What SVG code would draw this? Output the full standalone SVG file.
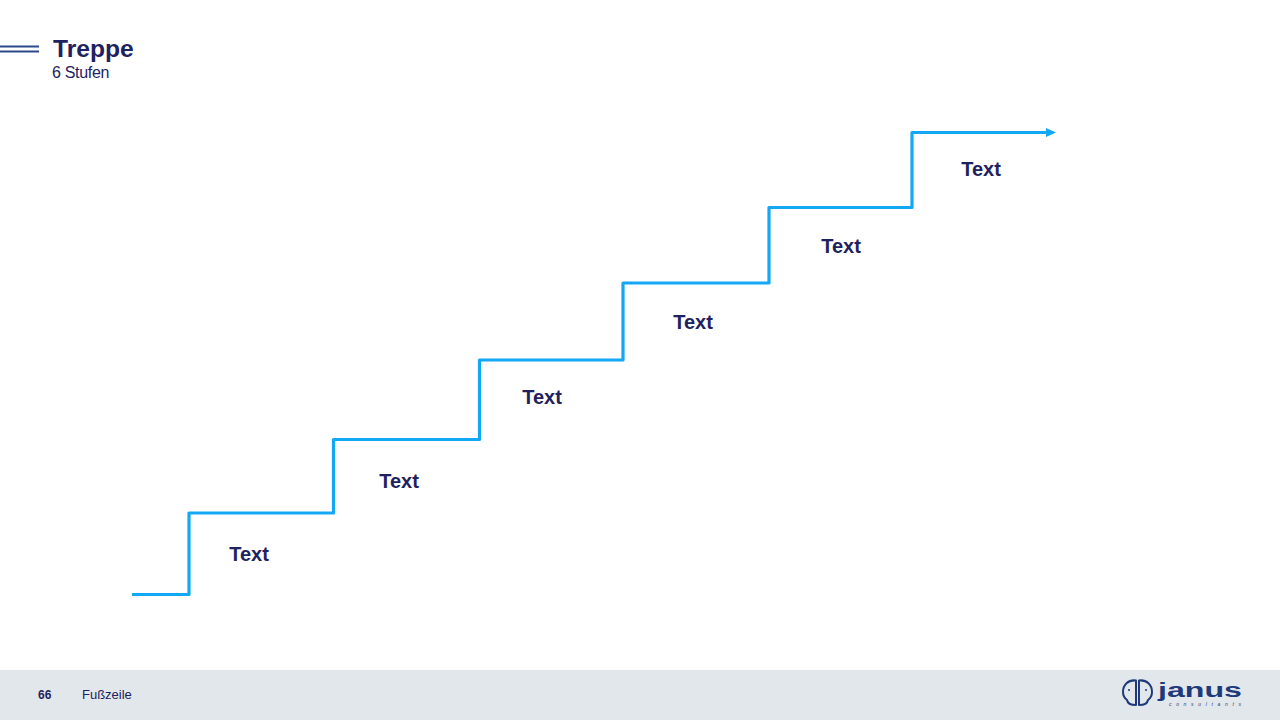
<svg xmlns="http://www.w3.org/2000/svg" width="1280" height="720" viewBox="0 0 1280 720">
<defs>
<style>
text{font-family:"Liberation Sans",Arial,sans-serif;fill:#1f2260}
.step{font-size:20px;font-weight:700;text-anchor:middle}
.logo{fill:none;stroke:#1f3a7a;stroke-linecap:round;stroke-linejoin:round}
</style>
<marker id="arrow" markerUnits="userSpaceOnUse" markerWidth="12" markerHeight="10" refX="1" refY="5" orient="auto"><path d="M0 .500L10 5L0 9.500Z" fill="#12a8f5"/></marker>
</defs>
<rect width="1280" height="720" fill="#fff"/>
<g id="header">
<path d="M0 46.500H39M0 51.500H39" stroke="#2c4a8a" stroke-width="2" fill="none"/>
<text x="53" y="57" font-size="24.600" font-weight="700">Treppe</text>
<text x="52" y="78" font-size="16" letter-spacing="-.3">6 Stufen</text>
</g>
<g id="connectors">
<path d="M132 594.500H189V513H333.500V439.500H479.500V360H623V283H769V207.500H912V132.500H1047" fill="none" stroke="#12a8f5" stroke-width="3.200" stroke-linejoin="round" marker-end="url(#arrow)"/>
</g>
<g id="step1"><text class="step" x="249" y="561">Text</text></g>
<g id="step2"><text class="step" x="399" y="488">Text</text></g>
<g id="step3"><text class="step" x="542" y="404">Text</text></g>
<g id="step4"><text class="step" x="693" y="329">Text</text></g>
<g id="step5"><text class="step" x="841" y="253">Text</text></g>
<g id="step6"><text class="step" x="981" y="176">Text</text></g>
<g id="footer">
<rect y="670" width="1280" height="50" fill="#e2e7ec"/>
<text x="38" y="699" font-size="12" font-weight="700">66</text>
<text x="82" y="699" font-size="13">Fußzeile</text>
</g>
<g id="logo">
<path class="logo" stroke-width="2" d="M1136 680.500C1128 679.500 1123 685 1123 692C1123 696 1125 698.500 1127 700C1127.500 703 1130 705 1136 705ZM1139 680.500C1147 679.500 1152 685 1152 692C1152 696 1150 698.500 1148 700C1147.500 703 1145 705 1139 705Z"/>
<circle cx="1129" cy="690" r="1" fill="#1f3a7a"/><circle cx="1146" cy="690" r="1" fill="#1f3a7a"/>
<text x="1158" y="697" font-size="20" font-weight="700" textLength="84" lengthAdjust="spacingAndGlyphs" style="fill:#1f3a7a">janus</text>
<text x="1169" y="705.800" font-size="5" font-style="italic" textLength="72" style="fill:#1f3a7a">consultants</text>
</g>
</svg>
